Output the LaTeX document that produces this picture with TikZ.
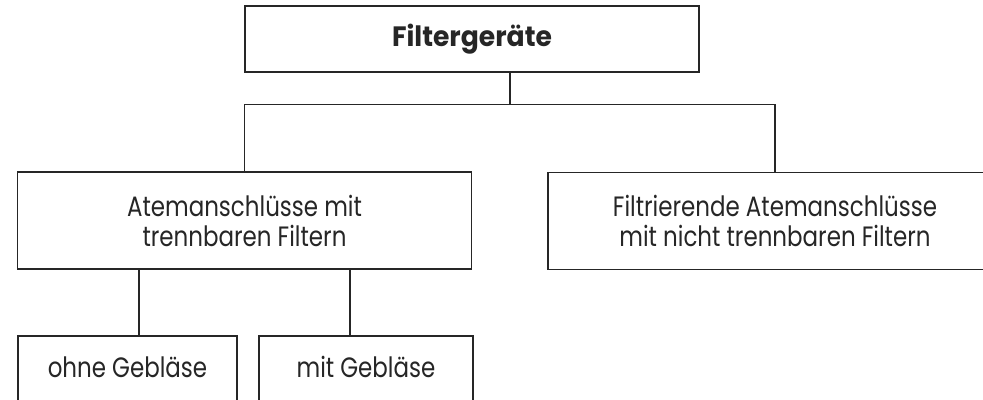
\documentclass[tikz,border=0pt]{standalone}
\usepackage{fontspec}
\setmainfont{Poppins}[FakeStretch=0.82, BoldFeatures={FakeStretch=0.95}]
\usetikzlibrary{calc}

\begin{document}
\begin{tikzpicture}[
  x=1bp, y=-1bp,
  font=\fontsize{28bp}{30bp}\selectfont,
  box/.style={
    draw=black!85,
    line width=1.8bp,
    fill=white,
    text=black!85,
    align=center,
    inner sep=0pt,
    minimum width=454bp,
    minimum height=97bp
  },
  topbox/.style={box, minimum height=66bp, font=\fontsize{28bp}{30bp}\selectfont\bfseries},
  % lower boxes run past the bottom edge, text kept near their top
  leafbox/.style={box, anchor=north, minimum height=80bp, text height=21bp, text depth=17bp},
  link/.style={draw=black!85, line width=1.5bp}
]
\useasboundingbox[fill=white] (0,0) rectangle (983,399);

\node[topbox] (geraete) at (472,39) {Filtergeräte};

\node[box] (trennbar) at (244.5,220.5)
  {Atemanschlüsse mit\\trennbaren Filtern};
\node[box] (festfilter) at (775,221)
  {Filtrierende Atemanschlüsse\\mit nicht trennbaren Filtern};

\node[leafbox, minimum width=219bp] (ohne) at (127.5,335) {ohne Gebläse};
\node[leafbox, minimum width=214bp] (mit) at (366,335) {mit Gebläse};

% branch point halfway between the two lower boxes
\coordinate (split) at ($(trennbar.north)!.5!(festfilter.north) + (0,-67)$);

\draw[link] (geraete.south -| split) -- (split);
\draw[link] (trennbar.north) |- (split) -| (festfilter.north);

\draw[link] ([xshift=-105.5bp]trennbar.south) coordinate (l) -- (l |- ohne.north);
\draw[link] ([xshift=105.5bp]trennbar.south) coordinate (r) -- (r |- mit.north);

\end{tikzpicture}
\end{document}
